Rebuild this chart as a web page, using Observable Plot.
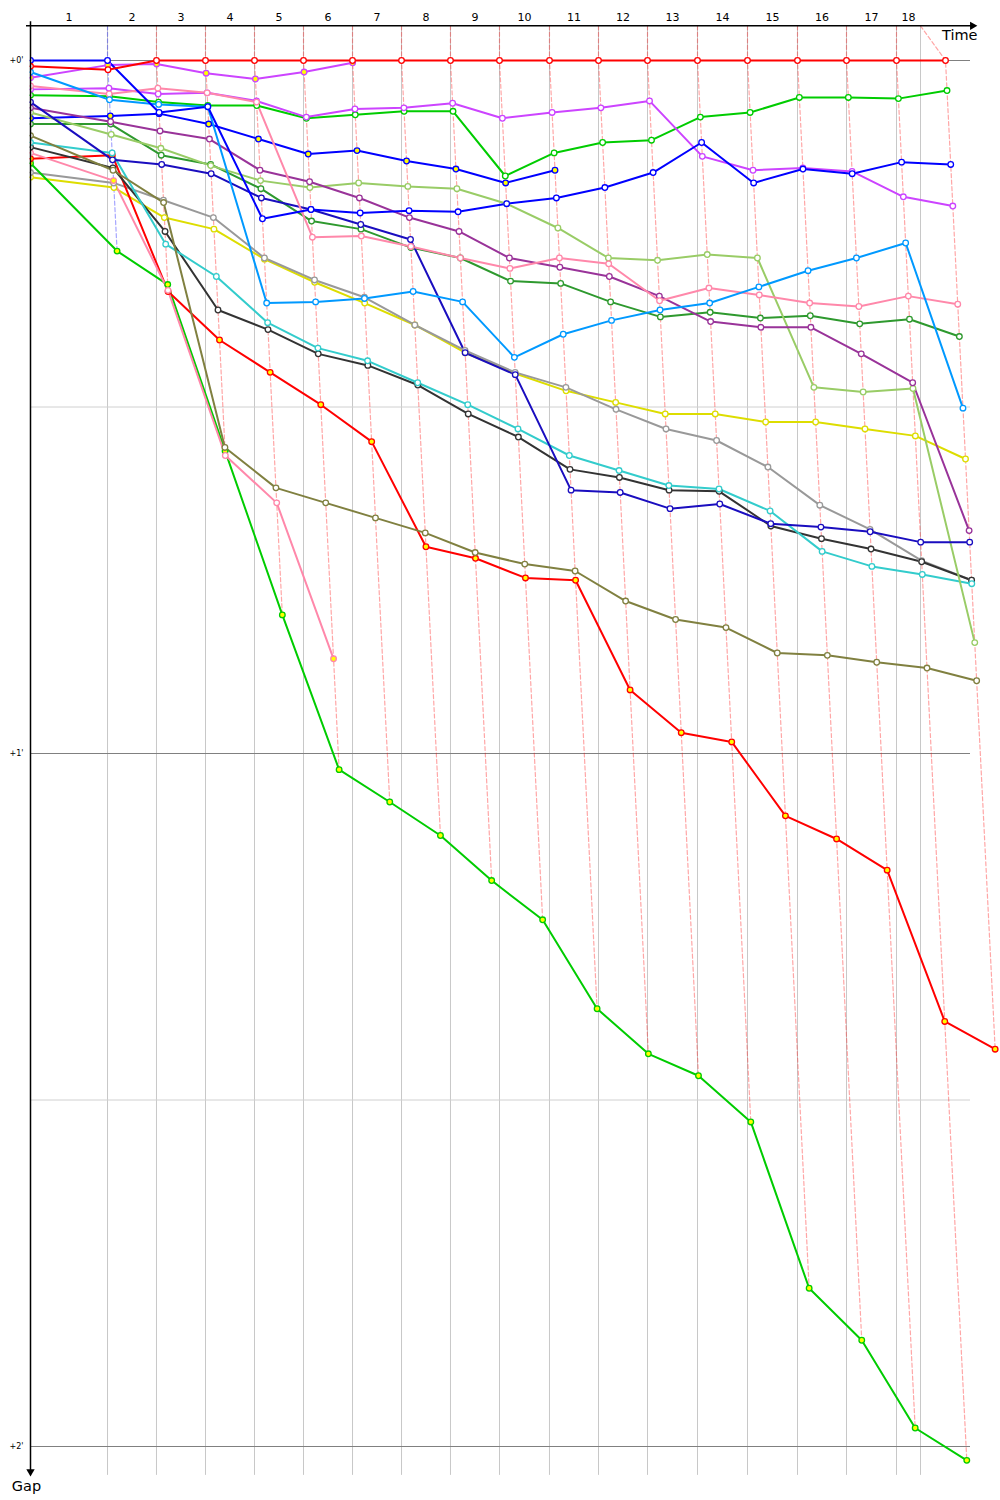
<!DOCTYPE html>
<html><head><meta charset="utf-8">
<script src="https://cdn.jsdelivr.net/npm/d3@7"></script>
<script src="https://cdn.jsdelivr.net/npm/@observablehq/plot@0.6"></script>
<style>body{margin:0;background:#fff}#chart svg{display:block}</style>
</head><body><div id="chart"></div>
<script>
// ---- data (time and gaps in seconds) ----
const lapLabels = ["1","2","3","4","5","6","7","8","9","10","11","12","13","14","15","16","17","18"];
// leader's cumulative crossing time at the end of each lap (index = lap)
const leaderTimes = [0, 132.8, 217.2, 301.7, 386.2, 470.7, 555.2, 639.7, 724.1, 808.6, 894.8, 979.3, 1063.8, 1150.0, 1236.2, 1322.4, 1406.9, 1493.1, 1577.6];
// lap boundary grid lines (last one = end of race clock)
const lapBoundaries = [0, 132.8, 217.2, 301.7, 386.2, 470.7, 555.2, 639.7, 724.1, 808.6, 894.8, 979.3, 1063.8, 1150.0, 1236.2, 1322.4, 1406.9, 1493.1, 1534.5];
const minuteGaps = [0, 60, 120];
const minuteLabels = ["+0'", "+1'", "+2'"];
const halfMinuteGaps = [30, 90];

// gaps to the leader at the end of each lap (index 0 = start)
const gapsRed1      = [0.5, 0.8, 0, 0, 0, 0, 0, 0, 0, 0, 0, 0, 0, 0, 0, 0, 0, 0, 0];
const gapsBlue1     = [0, 0, 4.5, 4.0, 13.7, 12.9, 13.2, 13.0, 13.1, 12.4, 11.9, 11.0, 9.7, 7.1, 10.6, 9.4, 9.8, 8.8, 9.0];
const gapsSky       = [1.0, 3.4, 3.8, 4.0, 21.0, 20.9, 20.6, 20.0, 20.9, 25.7, 23.7, 22.5, 21.6, 21.0, 19.6, 18.2, 17.1, 15.8, 30.1];
const gapsViolet1   = [1.5, 0.4, 0.3, 1.1, 1.6, 1.0, 0.2];
const gapsPink1     = [2.2, 2.9, 2.4, 2.8, 3.6, 15.3, 15.2, 16.1, 17.1, 18.0, 17.1, 17.6, 20.8, 19.7, 20.3, 21.0, 21.3, 20.4, 21.1];
const gapsViolet2   = [2.5, 2.4, 2.9, 2.8, 3.5, 4.9, 4.2, 4.1, 3.7, 5.0, 4.5, 4.1, 3.5, 8.3, 9.5, 9.3, 9.6, 11.8, 12.6];
const gapsGreen1    = [3.0, 3.1, 3.6, 3.9, 3.9, 5.0, 4.7, 4.4, 4.4, 10.0, 8.0, 7.1, 6.9, 4.9, 4.5, 3.2, 3.2, 3.3, 2.6];
const gapsNavy      = [3.6, 8.6, 9.0, 9.8, 11.9, 12.9, 14.2, 15.5, 25.3, 27.2, 37.2, 37.4, 38.8, 38.4, 40.1, 40.4, 40.8, 41.7, 41.7];
const gapsPurple    = [4.1, 5.3, 6.1, 6.8, 9.5, 10.5, 11.9, 13.6, 14.8, 17.1, 17.9, 18.7, 20.4, 22.6, 23.1, 23.1, 25.4, 27.9, 40.7];
const gapsLightGreen= [4.5, 6.4, 7.6, 9.1, 10.4, 11.0, 10.6, 10.9, 11.1, 12.4, 14.5, 17.1, 17.3, 16.8, 17.1, 28.3, 28.7, 28.4, 50.4];
const gapsBlue2     = [5.0, 4.8, 4.6, 5.5, 6.8, 8.1, 7.8, 8.7, 9.4, 10.6, 9.5];
const gapsDarkGreen = [5.5, 5.5, 8.2, 9.0, 11.1, 13.9, 14.6, 16.2, 17.1, 19.1, 19.3, 20.9, 22.2, 21.8, 22.3, 22.1, 22.8, 22.4, 23.9];
const gapsOlive     = [6.5, 9.5, 12.3, 33.5, 37.0, 38.3, 39.6, 40.9, 42.6, 43.6, 44.2, 46.8, 48.4, 49.1, 51.3, 51.5, 52.1, 52.6, 53.7];
const gapsCyan      = [7.1, 8.0, 15.9, 18.7, 22.7, 24.9, 26.0, 27.9, 29.8, 31.9, 34.2, 35.5, 36.8, 37.1, 39.0, 42.5, 43.8, 44.5, 45.3];
const gapsBlack     = [7.5, 9.3, 14.8, 21.6, 23.3, 25.4, 26.4, 28.1, 30.6, 32.6, 35.4, 36.1, 37.2, 37.3, 40.3, 41.4, 42.3, 43.4, 45.0];
const gapsPink2     = [8.0, 10.4, 19.9, 34.2, 38.3, 51.8];
const gapsRed2      = [8.5, 8.2, 20.0, 24.2, 27.0, 29.8, 33.0, 42.1, 43.1, 44.8, 45.0, 54.5, 58.2, 59.0, 65.4, 67.4, 70.1, 83.2, 85.6];
const gapsGreen2    = [8.9, 16.5, 19.4, 33.8, 48.0, 61.4, 64.2, 67.1, 71.0, 74.4, 82.1, 86.0, 87.9, 91.9, 106.3, 110.8, 118.4, 121.2];
const gapsGray      = [9.7, 10.6, 12.1, 13.6, 17.1, 19.0, 20.5, 22.9, 25.1, 27.0, 28.3, 30.2, 31.9, 32.9, 35.2, 38.5, 40.6, 43.3, 45.0];
const gapsYellow    = [10.1, 11.0, 13.6, 14.6, 17.2, 19.2, 21.0, 22.9, 25.3, 27.1, 28.6, 29.6, 30.6, 30.6, 31.3, 31.3, 31.9, 32.5, 34.5];

const carNames  = ["red1","blue1","sky","violet1","pink1","violet2","green1","navy","purple","lightgreen","blue2","darkgreen","olive","cyan","black","pink2","red2","green2","gray","yellow"];
const carColors = ["#ff0000","#0000ff","#0099ff","#cc44ff","#ff88aa","#cc44ff","#00cc00","#1a0dbf","#993399","#99cc66","#0000ff","#2e992e","#808040","#33cccc","#333333","#ff88aa","#ff0000","#00cc00","#999999","#dddd00"];
const carGaps   = [gapsRed1,gapsBlue1,gapsSky,gapsViolet1,gapsPink1,gapsViolet2,gapsGreen1,gapsNavy,gapsPurple,gapsLightGreen,gapsBlue2,gapsDarkGreen,gapsOlive,gapsCyan,gapsBlack,gapsPink2,gapsRed2,gapsGreen2,gapsGray,gapsYellow];
// laps with yellow-filled markers ("all" = every lap)
const carYellowLaps = [[],[],[],"all",[],[],[],[],[],[],"all",[],[],[],[],[1,5],"all","all",[],[]];

// ---- layout constants ----
const gapTop = -3.0, gapBottom = 122.5, gapArrow = 122.7;
const timeGridEnd = 1620.7, timeArrow = 1634.5;

// ---- derived tables ----
const pts = [];
carNames.forEach((name, c) => {
  carGaps[c].forEach((g, lap) => {
    const yl = carYellowLaps[c];
    pts.push({car: name, order: c, lap, x: lap === 0 ? 0 : leaderTimes[lap] + g, y: g,
      color: carColors[c], fill: (yl === "all" || yl.includes(lap)) ? "#ffff00" : "#ffffff"});
  });
});
pts.sort((a, b) => b.order - a.order);

const dashPts = [];
for (let lap = 1; lap < leaderTimes.length; lap++) {
  const atLap = pts.filter(p => p.lap === lap);
  const maxGap = d3.max(atLap, p => p.y);
  const leader = atLap.find(p => p.y === 0);
  const color = leader ? leader.color : "#ff0000";
  dashPts.push({lap, x: lapBoundaries[lap], y: gapTop, color});
  dashPts.push({lap, x: leaderTimes[lap], y: 0, color});
  dashPts.push({lap, x: leaderTimes[lap] + maxGap, y: maxGap, color});
}
const labelPts = lapLabels.map((t, i) => ({t, x: (lapBoundaries[i] + lapBoundaries[i + 1]) / 2}));

const chart = Plot.plot({
  width: 1000, height: 1500,
  marginLeft: 30, marginTop: 25, marginRight: 0, marginBottom: 0,
  x: {domain: [0, 1600], range: [30, 958], axis: null},
  y: {domain: [0, 120], range: [60, 1446], axis: null},
  color: {type: "identity"},
  style: {fontFamily: "DejaVu Sans, sans-serif", background: "#ffffff", overflow: "visible"},
  marks: [
    Plot.ruleX(lapBoundaries.slice(1), {y1: gapTop, y2: gapBottom, stroke: "#c8c8c8", strokeWidth: 1}),
    Plot.ruleY(halfMinuteGaps, {x1: 0, x2: timeGridEnd, stroke: "#d0d0d0", strokeWidth: 1}),
    Plot.ruleY(minuteGaps, {x1: 0, x2: timeGridEnd, stroke: "#808080", strokeWidth: 1}),
    Plot.line(dashPts, {x: "x", y: "y", z: "lap", stroke: "color", strokeOpacity: 0.35, strokeWidth: 1.2, strokeDasharray: "4,2.5", curve: "linear"}),
    Plot.line(pts, {x: "x", y: "y", z: "car", stroke: "color", strokeWidth: 2, strokeLinejoin: "round"}),
    Plot.dot(pts, {x: "x", y: "y", r: 2.8, stroke: "color", fill: "fill", strokeWidth: 1.3, clip: true}),
    // axes
    Plot.ruleX([0], {y1: gapTop, y2: gapArrow, dy: -4, stroke: "#000", strokeWidth: 1.5}),
    Plot.ruleY([gapTop], {x1: 0, x2: timeArrow, dx: -4, stroke: "#000", strokeWidth: 1.5}),
    Plot.dot([0], {x: 0, y: gapArrow, symbol: "triangle2", r: 4, rotate: 180, dy: -6, fill: "#000", stroke: "none"}),
    Plot.dot([0], {x: timeArrow, y: gapTop, symbol: "triangle2", r: 4, rotate: 90, dx: -6, fill: "#000", stroke: "none"}),
    // texts
    Plot.text(labelPts, {x: "x", y: gapTop, text: "t", dy: -8, fontSize: 11, fill: "#000"}),
    Plot.text(minuteGaps, {x: 0, y: d => d, text: (d, i) => minuteLabels[i], dx: -7, textAnchor: "end", fontSize: 8, fill: "#000"}),
    Plot.text(["Time"], {x: timeArrow, y: gapTop, text: d => d, dy: 10, dx: -1, textAnchor: "end", fontSize: 14.5, fill: "#000"}),
    Plot.text(["Gap"], {x: 0, y: gapArrow, text: d => d, dy: 9, dx: -4, textAnchor: "middle", fontSize: 14.5, fill: "#000"})
  ]
});
document.getElementById("chart").appendChild(chart);
</script>
</body></html>
